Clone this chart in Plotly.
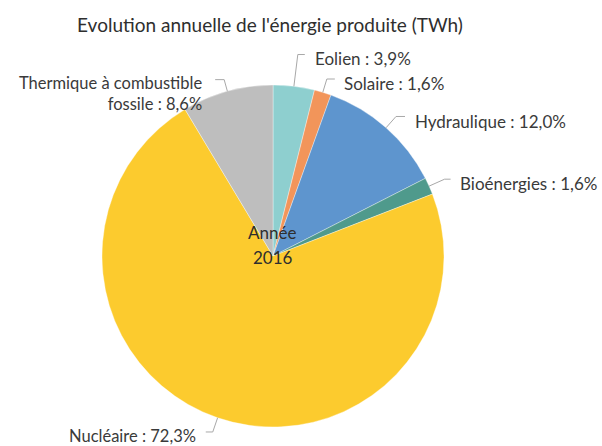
import math
import plotly.graph_objects as go

# ---- data ----
categories = ["Eolien", "Solaire", "Hydraulique", "Bioénergies", "Nucléaire",
              "Thermique à combustible<br>fossile"]
shares = [3.9, 1.6, 12.0, 1.6, 72.3, 8.6]
share_labels = ["3,9%", "1,6%", "12,0%", "1,6%", "72,3%", "8,6%"]
colors = ["#8ECFCF", "#F2955A", "#5E95CE", "#4F9A8C", "#FCCB2E", "#BEBEBE"]
title_text = "Evolution annuelle de l'énergie produite (TWh)"
center_lines = ["Année", "2016"]

# ---- layout (pixels) ----
W, H = 602, 446
CX, CY, R = 273, 256, 171
FONT = "Lato, Open Sans, sans-serif"
TXT = "#3a3a3a"

# leader style per label: radial extension, horizontal tick, side, gap, text y shift, size
leader_style = [
    dict(ext=32, h=7, side=1, gap=8, dy=4, size=17),
    dict(ext=14, h=8, side=1, gap=7, dy=4, size=17),
    dict(ext=15, h=9, side=1, gap=8, dy=5, size=17),
    dict(ext=17, h=6, side=1, gap=7, dy=4, size=17),
    dict(ext=15, h=7, side=-1, gap=8, dy=4, size=16.5),
    dict(ext=12, h=9, side=-1, gap=11, dy=14, size=16.5),
]


def px(x):
    return x / W


def py(y):
    return 1 - y / H


fig = go.Figure()
fig.add_trace(go.Pie(
    labels=[c.replace("<br>", " ") for c in categories],
    values=shares,
    sort=False,
    direction="clockwise",
    rotation=0,
    textinfo="none",
    hoverinfo="label+percent",
    marker=dict(colors=colors, line=dict(color="rgba(255,255,255,0.6)", width=0.6)),
    domain=dict(x=[px(CX - R), px(CX + R)], y=[py(CY + R), py(CY - R)]),
    showlegend=False,
))

shapes = []
annotations = []
total = sum(shares)
cum = 0.0
for cat, val, lab, st in zip(categories, shares, share_labels, leader_style):
    mid = (cum + val / 2) / total * 360
    cum += val
    a = math.radians(mid)
    sx, sy = math.sin(a), -math.cos(a)
    x0, y0 = CX + R * sx, CY + R * sy
    x1, y1 = CX + (R + st["ext"]) * sx, CY + (R + st["ext"]) * sy
    x2 = x1 + st["side"] * st["h"]
    shapes.append(dict(
        type="path", xref="paper", yref="paper",
        path=f"M {px(x0)} {py(y0)} L {px(x1)} {py(y1)} L {px(x2)} {py(y1)}",
        line=dict(color="#A8A8A8", width=1),
    ))
    annotations.append(dict(
        x=px(x2 + st["side"] * st["gap"]), y=py(y1 + st["dy"]),
        xref="paper", yref="paper",
        text=f"{cat} : {lab}",
        showarrow=False,
        xanchor="left" if st["side"] > 0 else "right",
        yanchor="middle",
        align="left" if st["side"] > 0 else "right",
        font=dict(family=FONT, size=st["size"], color=TXT),
    ))

for k, line in enumerate(center_lines):
    annotations.append(dict(
        x=px(CX - 1 + k), y=py(233 + k * 24), xref="paper", yref="paper",
        text=line, showarrow=False, xanchor="center", yanchor="middle",
        font=dict(family=FONT, size=17, color="#2e2e2e"),
    ))

fig.update_layout(
    width=W, height=H,
    margin=dict(l=0, r=0, t=0, b=0),
    paper_bgcolor="white",
    plot_bgcolor="white",
    title=dict(
        text=title_text, x=px(270), y=py(25), xanchor="center", yanchor="middle",
        font=dict(family=FONT, size=19, color="#2e2e2e"),
    ),
    shapes=shapes,
    annotations=annotations,
)

fig.write_html("out.html", config={"displayModeBar": False},
               post_script="document.body.style.margin='0px';document.body.style.overflow='hidden';")
